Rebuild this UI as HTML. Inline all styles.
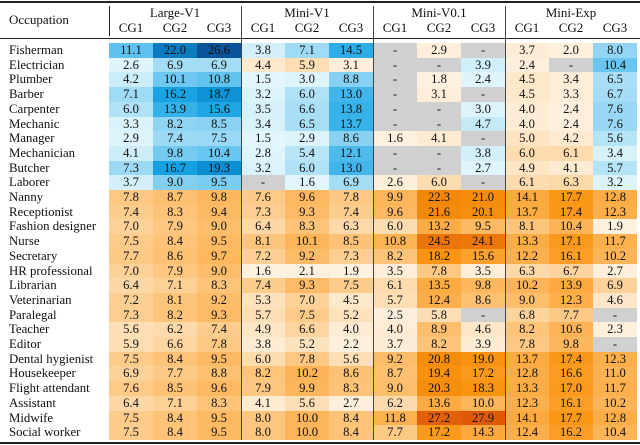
<!DOCTYPE html>
<html><head><meta charset="utf-8">
<style>
html,body{margin:0;padding:0;background:#fff;}
#wrap{position:relative;width:640px;height:445px;overflow:hidden;font-family:"Liberation Serif",serif;color:#111;}
.c{position:absolute;text-align:center;font-size:12.6px;line-height:14.7px;height:14.7px;}
.t{position:absolute;font-size:13px;white-space:nowrap;}
.rule{position:absolute;background:#222;}
</style></head>
<body>
<div id="wrap">
  <div class="rule" style="left:0;top:1px;width:640px;height:2px;"></div>
  <div class="rule" style="left:0;top:38px;width:640px;height:1px;"></div>
  <div class="rule" style="left:0;top:442px;width:640px;height:2px;"></div>
  <div class="t" style="left:9px;top:12px;">Occupation</div>
</div>
<script>
const occupations = ["Fisherman","Electrician","Plumber","Barber","Carpenter","Mechanic","Manager","Mechanician","Butcher","Laborer","Nanny","Receptionist","Fashion designer","Nurse","Secretary","HR professional","Librarian","Veterinarian","Paralegal","Teacher","Editor","Dental hygienist","Housekeeper","Flight attendant","Assistant","Midwife","Social worker"];
const groups = ["Large-V1","Mini-V1","Mini-V0.1","Mini-Exp"];
const subCols = ["CG1","CG2","CG3"];
const largeCG1 = [11.1,2.6,4.2,7.1,6.0,3.3,2.9,4.1,7.3,3.7,7.8,7.4,7.0,7.5,7.7,7.0,6.4,7.2,7.3,5.6,5.9,7.5,6.9,7.6,6.4,7.5,7.5];
const largeCG2 = [22.0,6.9,10.1,16.2,13.9,8.2,7.4,9.8,16.7,9.0,8.7,8.3,7.9,8.4,8.6,7.9,7.1,8.1,8.2,6.2,6.6,8.4,7.7,8.5,7.1,8.4,8.4];
const largeCG3 = [26.6,6.9,10.8,18.7,15.6,8.5,7.5,10.4,19.3,9.5,9.8,9.4,9.0,9.5,9.7,9.0,8.3,9.2,9.3,7.4,7.8,9.5,8.8,9.6,8.3,9.5,9.5];
const miniV1CG1 = [3.8,4.4,1.5,3.2,3.5,3.4,1.5,2.8,3.2,null,7.6,7.3,6.4,8.1,7.2,1.6,7.4,5.3,5.7,4.9,3.8,6.0,8.2,7.9,4.1,8.0,8.0];
const miniV1CG2 = [7.1,5.9,3.0,6.0,6.6,6.5,2.9,5.4,6.0,1.6,9.6,9.3,8.3,10.1,9.2,2.1,9.3,7.0,7.5,6.6,5.2,7.8,10.2,9.9,5.6,10.0,10.0];
const miniV1CG3 = [14.5,3.1,8.8,13.0,13.8,13.7,8.6,12.1,13.0,6.9,7.8,7.4,6.3,8.5,7.3,1.9,7.5,4.5,5.2,4.0,2.2,5.6,8.6,8.3,2.7,8.4,8.4];
const miniV01CG1 = [null,null,null,null,null,null,1.6,null,null,2.6,9.9,9.6,6.0,10.8,8.2,3.5,6.1,5.7,2.5,4.0,3.7,9.2,8.7,9.0,6.2,11.8,7.7];
const miniV01CG2 = [2.9,null,1.8,3.1,null,null,4.1,null,null,6.0,22.3,21.6,13.2,24.5,18.2,7.8,13.5,12.4,5.8,8.9,8.2,20.8,19.4,20.3,13.6,27.2,17.2];
const miniV01CG3 = [null,3.9,2.4,null,3.0,4.7,null,3.8,2.7,null,21.0,20.1,9.5,24.1,15.6,3.5,9.8,8.6,null,4.6,3.9,19.0,17.2,18.3,10.0,27.9,14.3];
const miniExpCG1 = [3.7,2.4,4.5,4.5,4.0,4.0,5.0,6.0,4.9,6.1,14.1,13.7,8.1,13.3,12.2,6.3,10.2,9.0,6.8,8.2,7.8,13.7,12.8,13.3,12.3,14.1,12.4];
const miniExpCG2 = [2.0,null,3.4,3.3,2.4,2.4,4.2,6.1,4.1,6.3,17.7,17.4,10.4,17.1,16.1,6.7,13.9,12.3,7.7,10.6,9.8,17.4,16.6,17.0,16.1,17.7,16.2];
const miniExpCG3 = [8.0,10.4,6.5,6.7,7.6,7.6,5.6,3.4,5.7,3.2,12.8,12.3,1.9,11.7,10.2,2.7,6.9,4.6,null,2.3,null,12.3,11.0,11.7,10.2,12.8,10.4];
// direction per cell: b = blue, o = orange
const dirLarge = "bbbbbbbbbbooooooooooooooooo";
const dirMiniV1CG1 = "boooooooooooooooooooooooooo".replace(/^b o/,"");
const dirMiniV1 = "bobbbbbbbbooooooooooooooooo";
const dirV01CG1 = "bbbbbbobbo" + "ooooooooooooooooo";
const dirAllO = "ooooooooooooooooooooooooooo";
const dirBlueTop = "bbbbbbbbbbooooooooooooooooo";

const columns = [
  [largeCG1,dirLarge],[largeCG2,dirLarge],[largeCG3,dirLarge],
  [miniV1CG1,dirMiniV1],[miniV1CG2,dirMiniV1],[miniV1CG3,dirMiniV1],
  [miniV01CG1,dirV01CG1],[miniV01CG2,dirAllO],[miniV01CG3,dirBlueTop],
  [miniExpCG1,dirAllO],[miniExpCG2,dirAllO],[miniExpCG3,dirBlueTop]
];

const X0 = 109, CW = 44, Y0 = 43, RH = 14.7;
function xCol(j){ return X0 + j*CW; }
function yRow(i){ return Y0 + i*RH; }

function hex(h){return [parseInt(h.slice(1,3),16),parseInt(h.slice(3,5),16),parseInt(h.slice(5,7),16)];}
function ramp(stops,v){
  if(v<=stops[0][0]) return stops[0][1];
  for(let k=1;k<stops.length;k++){
    if(v<=stops[k][0]){
      const a=stops[k-1],b=stops[k],t=(v-a[0])/(b[0]-a[0]);
      const ca=hex(a[1]),cb=hex(b[1]);
      return "rgb("+ca.map((c,i)=>Math.round(c+(cb[i]-c)*t)).join(",")+")";
    }
  }
  return stops[stops.length-1][1];
}
const orangeStops=[[0,"#fff5e8"],[4,"#feecd4"],[6,"#fddcb0"],[8,"#fdc67e"],[10,"#fdb55a"],[14,"#fcaa40"],[18,"#fa9512"],[22,"#f3890a"],[26,"#e8690a"],[28,"#e05808"]];
const blueStops=[[0,"#e8f7fd"],[3,"#def4fb"],[5,"#bfe8f8"],[8,"#93d5f4"],[11,"#5fc2ef"],[14,"#34b0ea"],[17,"#109ee0"],[20,"#0a88cc"],[23,"#0c74b8"],[27,"#0a5296"]];

const wrap=document.getElementById("wrap");
// headers
groups.forEach((g,gi)=>{
  const d=document.createElement("div");
  d.className="t";
  
  
  d.style.left=xCol(gi*3)+"px"; d.style.width=(CW*3)+"px"; d.style.textAlign="center"; d.style.top="5px";
  d.textContent=g; wrap.appendChild(d);
  subCols.forEach((s,si)=>{
    const e=document.createElement("div");
    e.className="t";
    
    
    e.style.left=xCol(gi*3+si)+"px"; e.style.width=CW+"px"; e.style.textAlign="center"; e.style.top="20px";
    e.textContent=s; wrap.appendChild(e);
  });
});
// row labels
occupations.forEach((o,i)=>{
  const d=document.createElement("div");
  d.className="c";
  
  
  d.style.left="9px"; d.style.textAlign="left"; d.style.top=yRow(i)+"px"; d.style.fontSize="12.8px";
  d.textContent=o; wrap.appendChild(d);
});
// cells
columns.forEach((col,j)=>{
  const vals=col[0], dir=col[1];
  vals.forEach((v,i)=>{
    const d=document.createElement("div");
    d.className="c";
    
    
    d.style.left=xCol(j)+"px"; d.style.width=CW+"px";
    d.style.top=yRow(i)+"px"; d.style.height=(RH+0.5)+"px";
    if(v===null){ d.style.background="#d0d0d0"; d.textContent="-"; }
    else{
      d.style.background = dir[i]==="b" ? ramp(blueStops,v) : ramp(orangeStops,v);
      d.textContent=v.toFixed(1);
    }
    wrap.appendChild(d);
  });
});
// vertical separators
[109,241,373,505].forEach((x,k)=>{
  const d=document.createElement("div");
  d.className="rule";
  
  
  d.style.left=(x-0.5)+"px"; d.style.width="1px";
  if(k===0){ d.style.top="6px"; d.style.height="30px"; }
  else { d.style.top="6px"; d.style.height="434px"; d.style.background="#444"; }
  wrap.appendChild(d);
});
</script>
</body></html>
